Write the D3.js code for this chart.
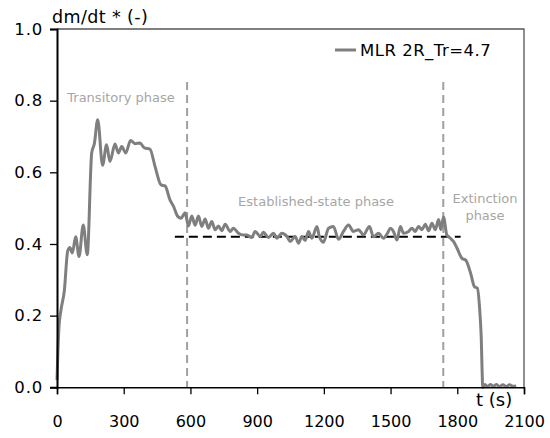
<!DOCTYPE html>
<html><head><meta charset="utf-8">
<script src="https://cdn.jsdelivr.net/npm/d3@7"></script>
<style>body{margin:0;background:#fff}svg{display:block}</style>
</head><body>
<svg id="chart" width="550" height="438"></svg>
<script>
const times = [0,9,18,33,48,58,69,84,99,118,136,156,168,183,205,223,238,261,276,291,309,331,351,373,393,418,441,468,486,508,524,543,558,576,
591,606,621,636,651,666,681,696,711,726,741,756,779,793,816,838,854,876,891,914,928,951,973,989,1011,1034,1049,1071,1086,1101,1116,1131,1146,
1169,1180,1198,1221,1243,1266,1288,1311,1333,1356,1378,1405,1423,1446,1468,1486,1499,1513,1529,1544,1558,1581,1596,1611,1626,1641,1656,1671,1686,1701,1716,1726,1738,
1753,1769,1783,1799,1821,1838,1861,1877,1890,1901,1907,1915,1925,1935,1950,1962,1975,1990,2005,2020,2035,2050,2065];
const mlr = [0.02,0.17,0.216,0.27,0.38,0.39,0.375,0.42,0.365,0.453,0.37,0.654,0.68,0.747,0.62,0.677,0.63,0.679,0.654,0.672,0.654,0.689,0.68,0.682,0.668,0.665,0.616,0.565,0.562,0.523,0.505,0.477,0.472,0.487,
0.45,0.478,0.452,0.478,0.449,0.47,0.444,0.463,0.44,0.45,0.437,0.455,0.435,0.444,0.43,0.425,0.425,0.418,0.435,0.421,0.433,0.418,0.43,0.416,0.43,0.421,0.407,0.421,0.402,0.421,0.41,0.435,0.416,
0.449,0.42,0.405,0.444,0.449,0.413,0.435,0.453,0.435,0.44,0.425,0.449,0.42,0.43,0.416,0.43,0.444,0.435,0.411,0.449,0.43,0.435,0.444,0.435,0.449,0.44,0.455,0.437,0.458,0.44,0.468,0.44,0.475,
0.425,0.416,0.407,0.388,0.36,0.355,0.316,0.281,0.277,0.215,0.15,0.0,0.008,0.002,0.008,0.002,0.008,0.002,0.007,0.002,0.007,0.003,0.004];
const xTicks = [0,300,600,900,1200,1500,1800,2100];
const yTicks = [0.0,0.2,0.4,0.6,0.8,1.0];
const phaseBounds = [585,1737];
const steadyLevel = 0.42;
const steadyRange = [530,1815];
const seriesName = "MLR 2R_Tr=4.7";

const svg = d3.select("#chart");
const m = {l:57, r:524, t:29, b:387.3};
const x = d3.scaleLinear().domain([0,2100]).range([m.l,m.r]);
const y = d3.scaleLinear().domain([0,1]).range([m.b,m.t]);
const font = "DejaVu Sans, sans-serif";

// frame top/right
svg.append("path").attr("d",`M${m.l},${m.t}H${m.r}V${m.b}`).attr("fill","none").attr("stroke","#555").attr("stroke-width",1.3);

// phase dashed lines
svg.selectAll("line.phase").data(phaseBounds).enter().append("line")
  .attr("x1",d=>x(d)).attr("x2",d=>x(d)).attr("y1",82).attr("y2",y(0))
  .attr("stroke","#a0a0a0").attr("stroke-width",2).attr("stroke-dasharray","8,5");

// steady level
svg.append("line").attr("x1",x(steadyRange[0])).attr("x2",x(steadyRange[1]))
  .attr("y1",y(steadyLevel)).attr("y2",y(steadyLevel))
  .attr("stroke","#000").attr("stroke-width",2).attr("stroke-dasharray","9,5");

// curve
const data = times.map((t,i)=>[t,mlr[i]]);
svg.append("path").datum(data)
  .attr("d",d3.line().x(d=>x(d[0])).y(d=>y(d[1])).curve(d3.curveMonotoneX))
  .attr("fill","none").attr("stroke","#7f7f7f").attr("stroke-width",3).attr("stroke-linejoin","round");

// axes
const xa = svg.append("g").attr("transform",`translate(0,${m.b})`)
  .call(d3.axisBottom(x).tickValues(xTicks).tickSize(7).tickPadding(21).tickFormat(d3.format("d")));
const ya = svg.append("g").attr("transform",`translate(${m.l},0)`)
  .call(d3.axisLeft(y).tickValues(yTicks).tickSize(7).tickPadding(7).tickFormat(d3.format(".1f")));
[xa,ya].forEach(g=>{
  g.selectAll("text").attr("font-family",font).attr("font-size",16).attr("fill","#000");
  g.selectAll("line").attr("stroke","#000").attr("stroke-width",1.3);
});
ya.selectAll("text").attr("font-size",16.5).attr("letter-spacing","0.8px");
xa.select(".domain").attr("stroke","#000").attr("stroke-width",1.5);
ya.select(".domain").attr("stroke","#000").attr("stroke-width",2);

// axis titles
svg.append("text").attr("x",52).attr("y",23).attr("font-family",font).attr("font-size",17.5).attr("letter-spacing","0.4px").text("dm/dt * (-)");
svg.append("text").attr("x",476).attr("y",406).attr("font-family",font).attr("font-size",18).text("t (s)");

// legend
svg.append("line").attr("x1",335).attr("x2",356).attr("y1",50).attr("y2",50).attr("stroke","#7f7f7f").attr("stroke-width",3);
svg.append("text").attr("x",360).attr("y",56).attr("font-family",font).attr("font-size",16.5).attr("letter-spacing","0.5px").text(seriesName);

// annotations
const ann = svg.append("g").attr("font-family",font).attr("font-size",13).attr("fill","#a6a6a6").attr("text-anchor","middle");
ann.append("text").attr("x",121).attr("y",102).text("Transitory phase");
ann.append("text").attr("x",316).attr("y",206).text("Established-state phase");
ann.append("text").attr("x",485).attr("y",203).text("Extinction");
ann.append("text").attr("x",485).attr("y",220).text("phase");
</script>
</body></html>
